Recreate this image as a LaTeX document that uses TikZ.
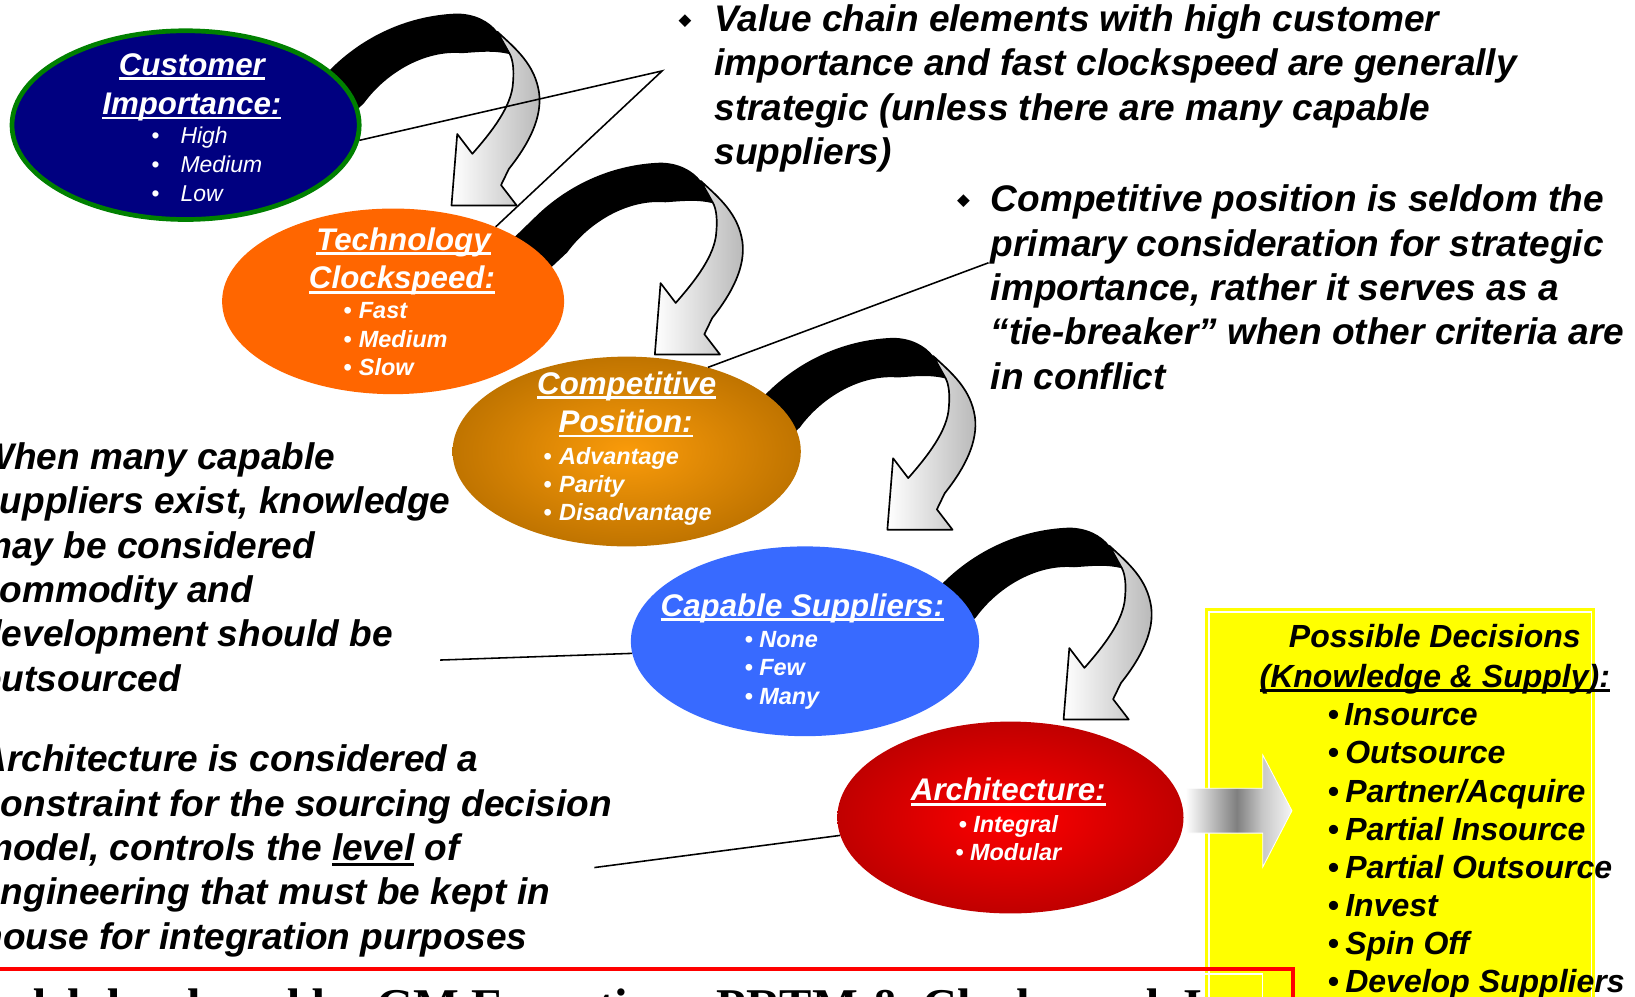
\documentclass[tikz,border=0pt]{standalone}
\usepackage{fontspec}
\setmainfont{Liberation Sans}
\newfontfamily\creditfont{Liberation Serif}
\newfontfamily\symbolfont{DejaVu Sans}
\usetikzlibrary{shapes.geometric}

\definecolor{navyfill}{RGB}{0,0,128}
\definecolor{greenrim}{RGB}{0,128,0}
\definecolor{orangefill}{RGB}{255,102,0}
\definecolor{amberin}{RGB}{250,155,10}
\definecolor{amberout}{RGB}{192,116,0}
\definecolor{bluefill}{RGB}{56,106,255}
\definecolor{redin}{RGB}{255,0,0}
\definecolor{redout}{RGB}{192,0,0}
\definecolor{boxyellow}{RGB}{255,255,0}

% thick underline that follows the width of its text
\newsavebox\ulbox
\newcommand{\thickul}[1]{\sbox\ulbox{#1}\rlap{\rule[-0.15em]{\wd\ulbox}{0.09em}}\usebox\ulbox}

% white - grey - white fill of the block arrow
\pgfdeclarehorizontalshading{blockarrowshade}{100bp}{color(0bp)=(white); color(25bp)=(white); color(49bp)=(black!50); color(61bp)=(black!22); color(75bp)=(black!4); color(100bp)=(black!4)}

\begin{document}
\begin{tikzpicture}[x=1pt,y=-1pt,
  oval/.style={ellipse, inner sep=0pt},
  ovaltitle/.style={font=\fontsize{30}{36}\selectfont\bfseries\itshape, text=white, anchor=base, inner sep=0pt},
  ovalitem/.style={font=\fontsize{22.5}{27}\selectfont\bfseries\itshape, text=white, anchor=base west, inner sep=0pt},
  ovalitemlight/.style={font=\fontsize{22}{27}\selectfont\itshape, text=white, anchor=base west, inner sep=0pt},
  notetext/.style={font=\fontsize{35.5}{42.6}\selectfont\bfseries\itshape, anchor=base west, inner sep=0pt},
  notemark/.style={font=\symbolfont\fontsize{16}{16}\selectfont, inner sep=0pt},
  decision/.style={font=\fontsize{30.7}{36.6}\selectfont\bfseries\itshape, anchor=base west, inner sep=0pt},
  leader/.style={line width=1.5pt, black},
  ribbon/.style={left color=white, right color=black!28, draw=black, line width=1.6pt, line join=round},
]
\clip (0,0) rectangle (1568,956);
\fill[white] (0,0) rectangle (1568,956);

% curved ribbons leading from one criterion to the next
\foreach \tx/\ty in {433/197, 628/340, 851/508, 1020/690} {
  \begin{scope}[shift={(\tx,\ty)}]
    \fill[black] (-144,-103.5) -- (-112,-134.5)
      .. controls (-85,-160) and (-45,-182) .. (5,-184)
      .. controls (22,-184) and (36,-177) .. (44,-166.5)
      -- (56,-145)
      .. controls (40,-149) and (25,-147) .. (10,-146)
      .. controls (-25,-149) and (-62,-128) .. (-84,-98)
      -- (-116,-68) -- cycle;
    \shadedraw[ribbon] (44,-166.5)
      .. controls (62,-150) and (80,-135) .. (84,-108)
      .. controls (87,-85) and (75,-60) .. (55,-35)
      -- (47.5,-19.5) -- (62.5,0) -- (0,0) -- (5.5,-68.5) -- (20,-49.5)
      .. controls (38,-70) and (58,-95) .. (59,-118)
      .. controls (60,-130) and (59,-139) .. (56,-145) -- cycle;
  \end{scope}
}

% the five criteria
\node[oval, minimum width=333pt, minimum height=181pt, fill=navyfill, draw=greenrim, line width=4.5pt] (e1) at (178,120) {};
\node[oval, minimum width=328pt, minimum height=178pt, fill=orangefill] (e2) at (377,289) {};
\node[oval, minimum width=334pt, minimum height=182pt, inner color=amberin, outer color=amberout] (e3) at (601,433) {};
\node[oval, minimum width=334pt, minimum height=182pt, fill=bluefill] (e4) at (772,615) {};
\node[oval, minimum width=332pt, minimum height=184pt, inner color=redin, outer color=redout] (e5) at (969,784) {};

% decisions box
\fill[boxyellow] (1155.5,583) rectangle (1530,980);
\draw[white, line width=1.3pt] (1159.5,587) rectangle (1526,990);

% block arrow into the decisions box
\path[shading=blockarrowshade, draw=white, line width=0.8pt]
  (1137,756) -- (1211,756) -- (1211,724) -- (1239,777.5) -- (1211,831.5) -- (1211,799) -- (1137,799) -- cycle;

% leader lines from the notes
\coordinate (v1) at (635,68);
\coordinate (v2) at (948,252);
\coordinate (v3) at (422,633);
\coordinate (v4) at (570,832);
\draw[leader] (e1.355) -- (v1) -- (e2.36);
\draw[leader] (v2) -- (e3.46);
\draw[leader] (v3) -- (e4.184);
\draw[leader] (v4) -- (e5.186);

% criterion texts
\node[ovaltitle] (t1a) at (184,72) {\thickul{Customer}};
\node[ovaltitle] (t1b) at (184,110) {\thickul{Importance:}};
\node[ovalitemlight] (t1c) at (145,138) {\makebox[28pt][l]{•}High};
\node[ovalitemlight] (t1d) at (145,165.5) {\makebox[28pt][l]{•}Medium};
\node[ovalitemlight] (t1e) at (145,193) {\makebox[28pt][l]{•}Low};

\node[ovaltitle] (t2a) at (387,240) {\thickul{Technology}};
\node[ovaltitle] (t2b) at (385.5,277) {\thickul{Clockspeed:}};
\node[ovalitem] (t2c) at (329,305) {\makebox[15pt][l]{•}Fast};
\node[ovalitem] (t2d) at (329,333) {\makebox[15pt][l]{•}Medium};
\node[ovalitem] (t2e) at (329,360) {\makebox[15pt][l]{•}Slow};

\node[ovaltitle] (t3a) at (601,378) {\thickul{Competitive}};
\node[ovaltitle] (t3b) at (600,415) {\thickul{Position:}};
\node[ovalitem] (t3c) at (521,445) {\makebox[15pt][l]{•}Advantage};
\node[ovalitem] (t3d) at (521,472) {\makebox[15pt][l]{•}Parity};
\node[ovalitem] (t3e) at (521,499) {\makebox[15pt][l]{•}Disadvantage};

\node[ovaltitle] (t4a) at (769.5,591) {\thickul{Capable Suppliers:}};
\node[ovalitem] (t4b) at (714,621) {\makebox[14pt][l]{•}None};
\node[ovalitem] (t4c) at (714,648) {\makebox[14pt][l]{•}Few};
\node[ovalitem] (t4d) at (714,676) {\makebox[14pt][l]{•}Many};

\node[ovaltitle] (t5a) at (967,768) {\thickul{Architecture:}};
\node[ovalitem, anchor=base] (t5b) at (967,798) {• Integral};
\node[ovalitem, anchor=base] (t5c) at (967,825) {• Modular};

% notes, upper right
\node[notemark] (m1) at (657,20) {◆};
\node[notetext] (n1a) at (685,30) {Value chain elements with high customer};
\node[notetext] (n1b) at (685,72.6) {importance and fast clockspeed are generally};
\node[notetext] (n1c) at (685,115.2) {strategic (unless there are many capable};
\node[notetext] (n1d) at (685,157.8) {suppliers)};

\node[notemark] (m2) at (924,193) {◆};
\node[notetext] (n2a) at (950,203) {Competitive position is seldom the};
\node[notetext] (n2b) at (950,245.6) {primary consideration for strategic};
\node[notetext] (n2c) at (950,288.2) {importance, rather it serves as a};
\node[notetext] (n2d) at (950,330.8) {“tie-breaker” when other criteria are};
\node[notetext] (n2e) at (950,373.4) {in conflict};

% notes, left
\node[notetext] (n3a) at (-20,450) {When many capable};
\node[notetext] (n3b) at (-20,492.6) {suppliers exist, knowledge};
\node[notetext] (n3c) at (-20,535.2) {may be considered};
\node[notetext] (n3d) at (-20,577.8) {commodity and};
\node[notetext] (n3e) at (-20,620.4) {development should be};
\node[notetext] (n3f) at (-20,663) {outsourced};

\node[notetext] (n4a) at (-19,740) {Architecture is considered a};
\node[notetext] (n4b) at (-19,782.6) {constraint for the sourcing decision};
\node[notetext] (n4c) at (-19,825.2) {model, controls the \thickul{level} of};
\node[notetext] (n4d) at (-19,867.8) {engineering that must be kept in};
\node[notetext] (n4e) at (-19,910.4) {house for integration purposes};

% decisions
\node[decision, anchor=base] (d0) at (1376,621) {Possible Decisions};
\node[decision, anchor=base] (d1) at (1376,659) {\thickul{(Knowledge \& Supply):}};
\node[decision] (d2) at (1273,696) {\makebox[16pt][l]{•}Insource};
\node[decision] (d3) at (1273,732.6) {\makebox[17pt][l]{•}Outsource};
\node[decision] (d4) at (1273,769.2) {\makebox[17pt][l]{•}Partner/Acquire};
\node[decision] (d5) at (1273,805.8) {\makebox[17pt][l]{•}Partial Insource};
\node[decision] (d6) at (1273,842.4) {\makebox[17pt][l]{•}Partial Outsource};
\node[decision] (d7) at (1273,879) {\makebox[17pt][l]{•}Invest};
\node[decision] (d8) at (1273,915.6) {\makebox[17pt][l]{•}Spin Off};
\node[decision] (d9) at (1273,952.2) {\makebox[17pt][l]{•}Develop Suppliers};

% source frame along the lower edge
\draw[white, line width=1.3pt] (-10,934) -- (1211,934) -- (1211,990);
\draw[red, line width=4pt] (-10,929) -- (1240,929) -- (1240,990);
\node[anchor=base west, inner sep=0pt, font=\creditfont\fontsize{46.5}{56}\selectfont\bfseries] (credit) at (-49,981)
  {Model developed by GM Executives, PRTM \& Clockspeed, Inc.};
\end{tikzpicture}
\end{document}
